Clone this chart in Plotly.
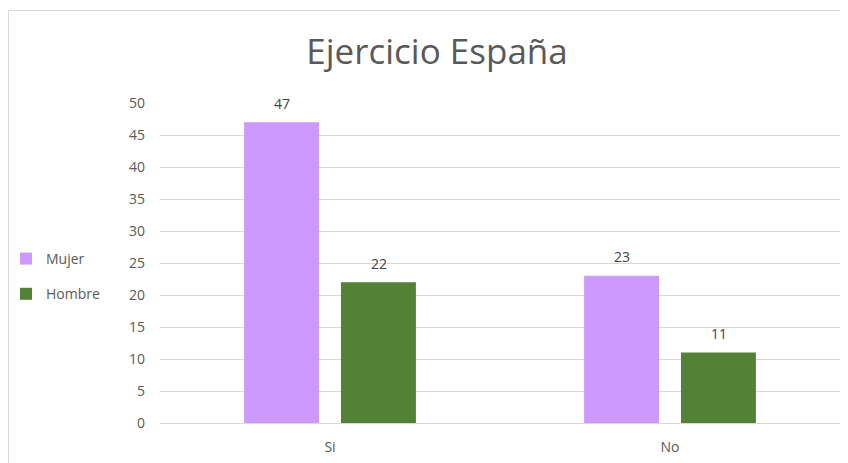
import plotly.graph_objects as go

categories = ["Si", "No"]
mujer = [47, 23]
hombre = [22, 11]
series_names = ["Mujer", "Hombre"]
title_text = "Ejercicio España"

# page body has an 8px margin, so figure is drawn at (8, 8)
W, H = 840, 455
L, R, T, B = 152, 8, 95, 40
pw, ph = W - L - R, H - T - B

FONT = "Open Sans"
LABEL_COLOR = "#404040"
AXIS_COLOR = "#595959"
COLORS = ["#CC99FF", "#538135"]

fig = go.Figure()
for name, vals, col, grp in [(series_names[0], mujer, COLORS[0], "a"),
                             (series_names[1], hombre, COLORS[1], "b")]:
    fig.add_trace(go.Bar(x=categories, y=vals, name=name, legendgroup=grp,
                         marker=dict(color=col, line=dict(width=0))))

# data labels placed at each bar's value
for vals, xs in [(mujer, -48.5), (hombre, 48.5)]:
    for c, v in zip(categories, vals):
        fig.add_annotation(x=c, y=v, xref="x", yref="y", text=str(v), showarrow=False,
                           xshift=xs, yshift=19, yanchor="middle",
                           font=dict(family=FONT, size=14, color=LABEL_COLOR))

fig.update_layout(
    width=W, height=H,
    margin=dict(l=L, r=R, t=T, b=B, autoexpand=False),
    paper_bgcolor="white", plot_bgcolor="white",
    barmode="group", bargap=0.43, bargroupgap=0.227,
    title=dict(text=title_text, x=429 / W, xanchor="center", y=1 - 44 / H, yanchor="middle",
               font=dict(family=FONT, size=35, color=AXIS_COLOR)),
    font=dict(family=FONT, size=14, color=AXIS_COLOR),
    legend=dict(x=(-2 - L) / pw, xanchor="left", y=1 - (235 - T) / ph, yanchor="top",
                tracegroupgap=14, font=dict(size=14, color=AXIS_COLOR),
                itemwidth=30, bgcolor="rgba(0,0,0,0)"),
    yaxis=dict(range=[0, 50], dtick=5, showgrid=True, gridcolor="#D9D9D9", gridwidth=1,
               zeroline=True, zerolinecolor="#D9D9D9", zerolinewidth=1,
               ticks="", showline=False, tickfont=dict(size=14, color=AXIS_COLOR),
               ticklabelstandoff=14),
    xaxis=dict(showline=False, ticks="", tickfont=dict(size=14, color=AXIS_COLOR),
               ticklabelstandoff=14),
)

fig.add_shape(type="rect", xref="paper", yref="paper",
              x0=(0.5 - L) / pw, x1=(W + 5 - L) / pw,
              y0=-(B + 5) / ph, y1=1 + (T - 2.5) / ph,
              line=dict(color="#D9D9D9", width=1), layer="below")

fig.write_html("out.html")
